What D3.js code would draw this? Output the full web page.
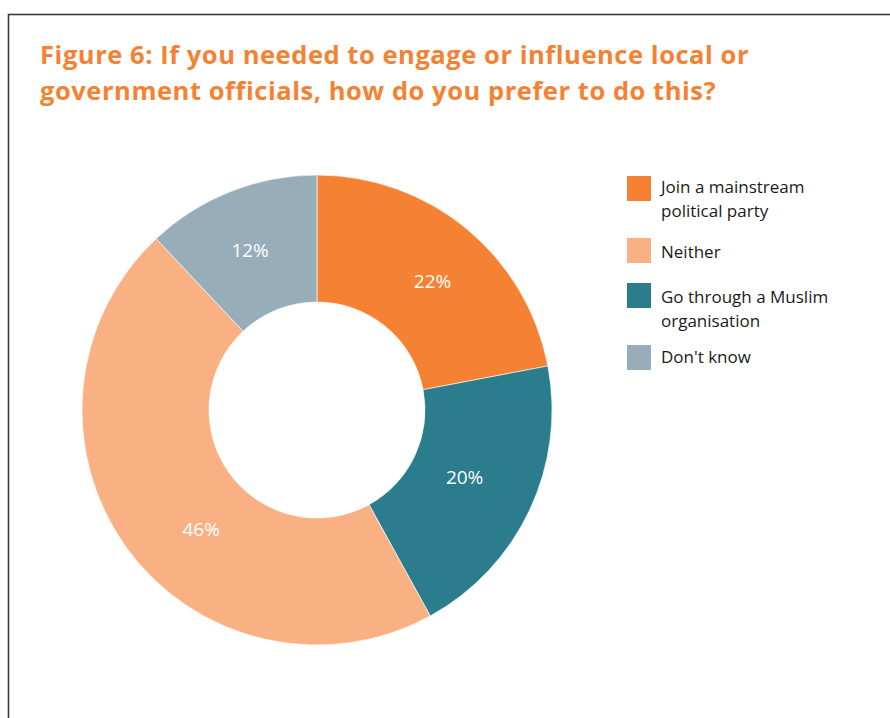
<!DOCTYPE html>
<html>
<head>
<meta charset="utf-8">
<script src="https://cdn.jsdelivr.net/npm/d3@7/dist/d3.min.js"></script>
<style>
  html, body { margin: 0; padding: 0; background: #fff; }
  svg { display: block; }
</style>
</head>
<body>
<svg id="chart" width="890" height="718"></svg>
<script>
// Survey responses (percent), drawn clockwise from 12 o'clock
const categories = ["Join a mainstream political party", "Go through a Muslim organisation", "Neither", "Don't know"];
const values = [22, 20, 46, 12];
const colors = ["#F58233", "#2B7C8C", "#F9B183", "#97AEBA"];

// Legend order (indices into categories) and line-wrapped labels
const legendOrder = [0, 2, 1, 3];
const legendLines = [
  ["Join a mainstream", "political party"],
  ["Go through a Muslim", "organisation"],
  ["Neither"],
  ["Don't know"]
];

const titleLines = [
  "Figure 6: If you needed to engage or influence local or",
  "government officials, how do you prefer to do this?"
];

const font = "'Open Sans', Lato, sans-serif";
const svg = d3.select("#chart");

// Frame
svg.append("rect")
  .attr("x", 8.5).attr("y", 14.5)
  .attr("width", 900).attr("height", 720)
  .attr("fill", "none")
  .attr("stroke", "#3a3a3a")
  .attr("stroke-width", 1.6);

// Title
svg.append("text")
  .attr("font-family", font)
  .attr("font-weight", 700)
  .attr("font-size", 25.5)
  .attr("letter-spacing", 0.55)
  .attr("fill", "#F58233")
  .selectAll("tspan")
  .data(titleLines)
  .join("tspan")
  .attr("x", 40)
  .attr("y", (d, i) => 64 + i * 36)
  .text(d => d);

// Donut
const cx = 317, cy = 410, outerR = 235, innerR = 108;
const pie = d3.pie().sort(null).value(d => d);
const arc = d3.arc().innerRadius(innerR).outerRadius(outerR);
const arcs = pie(values);

const g = svg.append("g").attr("transform", `translate(${cx},${cy})`);
g.selectAll("path")
  .data(arcs)
  .join("path")
  .attr("d", arc)
  .attr("fill", (d, i) => colors[i])
  .attr("stroke", "#fff")
  .attr("stroke-width", 0.6);

// Value labels sit near the ring's mid radius; small angular nudges keep
// the large slice's label toward the lower left.
const labelShift = [0.04, -0.015, -0.17, -0.02];   // radians
const labelRadius = [173, 162, 166, 173];
g.selectAll("text.val")
  .data(arcs)
  .join("text")
  .attr("class", "val")
  .attr("transform", (d, i) => {
    const a = (d.startAngle + d.endAngle) / 2 + labelShift[i];
    return `translate(${labelRadius[i] * Math.sin(a)},${-labelRadius[i] * Math.cos(a)})`;
  })
  .attr("text-anchor", "middle")
  .attr("dy", "0.36em")
  .attr("font-family", font)
  .attr("font-size", 19)
  .attr("fill", "#fff")
  .text(d => d.value + "%");

// Legend
const legendY = [176, 238, 283, 345];
const legendTextY = [17, 20, 20, 18];
const lg = svg.append("g");
legendOrder.forEach((ci, k) => {
  const row = lg.append("g").attr("transform", `translate(627,${legendY[k]})`);
  row.append("rect")
    .attr("width", 24).attr("height", 25)
    .attr("fill", colors[ci]);
  row.append("text")
    .attr("font-family", font)
    .attr("font-size", 17)
    .attr("fill", "#1a1a1a")
    .selectAll("tspan")
    .data(legendLines[ci])
    .join("tspan")
    .attr("x", 34)
    .attr("y", (d, i) => legendTextY[k] + i * 24)
    .text(d => d);
});
</script>
</body>
</html>
